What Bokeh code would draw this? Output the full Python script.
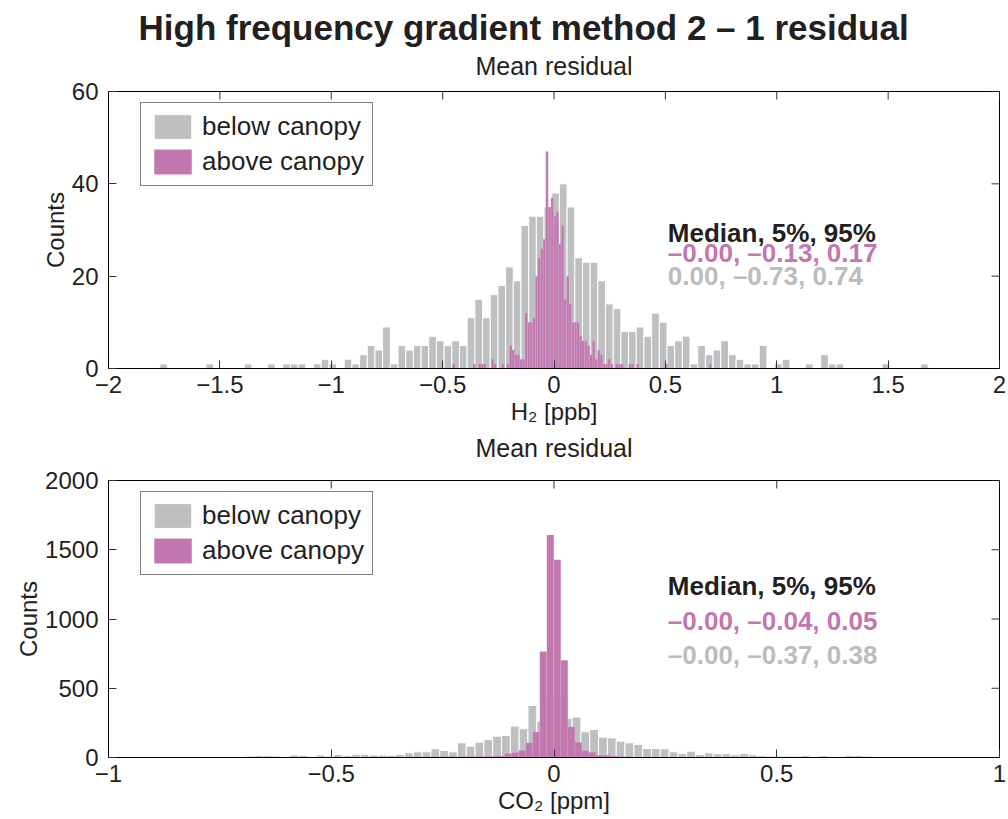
import numpy as np
from bokeh.plotting import figure
from bokeh.models import (Title, Legend, LegendItem, LinearAxis, FixedTicker,
                          Label, ColumnDataSource, Range1d)
from bokeh.layouts import column
from bokeh.embed import file_html
from bokeh.resources import INLINE

FONT = "Liberation Sans"
GRAY = "#bebfc1"
PINK = "#c277b0"
TXT = "#231f20"
GRAY_TXT = "#bcbcbc"
TICK = "#333333"

FRAME_W = 891
FRAME_H = 277
TICK_LEN = 8

# ---------------- data: H2 panel ----------------
h2_below_start = -1.76975
h2_below_width = 0.0345
h2_below_counts = [
    1, 0, 0, 0, 0, 0, 1, 0, 0, 0,
    0, 1, 0, 0, 1, 0, 1, 1, 1, 0,
    1, 2, 1, 0, 2, 1, 3, 5, 4, 9,
    1, 5, 4, 5, 5, 7, 6, 5, 6, 5,
    11, 15, 11, 16, 18, 22, 19, 31, 33, 33,
    35, 38, 40, 35, 24, 23, 23, 19, 14, 13,
    8, 8, 9, 7, 12, 10, 5, 6, 7, 1,
    5, 3, 4, 6, 3, 2, 1, 1, 5, 0,
    1, 2, 0, 0, 1, 0, 3, 1, 1, 0,
    0, 0, 0, 0, 1, 0, 0, 0, 0, 1,
]
h2_above_start = -0.4564
h2_above_width = 0.01164
h2_above_counts = [
    1, 0, 0, 0, 0, 0, 0, 0, 1, 0,
    1, 1, 1, 0, 0, 2, 1, 0, 0, 1,
    0, 1, 5, 4, 3, 3, 2, 2, 12, 10,
    10, 11, 20, 24, 26, 28, 47, 35, 37, 33,
    34, 27, 31, 15, 20, 14, 10, 10, 10, 7,
    6, 6, 5, 3, 6, 2, 4, 3, 1, 1,
    2, 1, 0, 1, 1, 1, 0, 0, 1, 1,
    0, 1, 0, 0, 0, 0, 0, 0, 0, 0,
    0, 0, 1, 0, 0, 0, 0, 0, 0, 0,
    0, 0, 0, 0, 0, 0, 0, 0, 0, 1,
]
h2_xticks = [-2, -1.5, -1, -0.5, 0, 0.5, 1, 1.5, 2]
h2_xtick_labels = ["\u22122", "\u22121.5", "\u22121", "\u22120.5", "0", "0.5", "1", "1.5", "2"]
h2_yticks = [0, 20, 40, 60]
h2_stats = ["Median, 5%, 95%", "\u20130.00, \u20130.13, 0.17", "0.00, \u20130.73, 0.74"]

# ---------------- data: CO2 panel ----------------
co2_below_start = -0.989
co2_below_width = 0.0198
co2_below_counts = [
    5, 8, 6, 8, 8, 6, 8, 6, 8, 5,
    7, 6, 8, 6, 8, 10, 14, 14, 12, 8,
    18, 16, 8, 18, 10, 22, 14, 24, 24, 18,
    18, 16, 22, 34, 41, 41, 63, 51, 41, 106,
    82, 111, 130, 154, 159, 227, 208, 377, 263, 450,
    430, 283, 292, 186, 203, 147, 142, 118, 106, 94,
    65, 65, 63, 41, 30, 46, 22, 34, 27, 27,
    19, 29, 19, 14, 10, 10, 10, 10, 14, 7,
    14, 7, 5, 14, 14, 10, 5, 5, 0, 0,
    7, 7, 5, 0, 2, 0, 0, 2, 0, 0,
]
co2_above_start = -0.963
co2_above_width = 0.01578
co2_above_counts = [
    1, 1, 2, 1, 1, 2, 1, 1, 2, 1,
    2, 1, 2, 2, 1, 2, 2, 2, 3, 2,
    2, 3, 2, 3, 3, 2, 3, 3, 3, 4,
    3, 4, 4, 3, 4, 5, 4, 5, 5, 4,
    5, 5, 6, 5, 6, 6, 7, 6, 7, 8,
    7, 8, 9, 10, 28, 36, 50, 106, 185, 765,
    1607, 1427, 703, 222, 111, 50, 38, 17, 17, 10,
    5, 5, 4, 4, 3, 3, 3, 3, 2, 3,
    2, 2, 3, 2, 2, 2, 1, 2, 2, 1,
    2, 1, 1, 2, 1, 1, 1, 1, 1, 1,
]
co2_xticks = [-1, -0.5, 0, 0.5, 1]
co2_xtick_labels = ["\u22121", "\u22120.5", "0", "0.5", "1"]
co2_yticks = [0, 500, 1000, 1500, 2000]
co2_stats = ["Median, 5%, 95%", "\u20130.00, \u20130.04, 0.05", "\u20130.00, \u20130.37, 0.38"]

legend_labels = ["below canopy", "above canopy"]
main_title = "High frequency gradient method 2 \u2013 1 residual"
sub_title = "Mean residual"


def hist_source(start, width, counts):
    counts = np.asarray(counts, dtype=float)
    left = start + width * np.arange(len(counts))
    return ColumnDataSource(dict(left=left, right=left + width,
                                 top=counts, bottom=np.zeros_like(counts)))


def style_axis(ax):
    ax.axis_line_color = "black"
    ax.axis_line_width = 1
    ax.major_tick_in = TICK_LEN
    ax.major_tick_out = 0
    ax.minor_tick_in = 0
    ax.minor_tick_out = 0
    ax.major_tick_line_color = TICK
    ax.major_label_text_font = FONT
    ax.major_label_text_font_size = "24px"
    ax.major_label_text_color = TXT
    ax.axis_label_text_font = FONT
    ax.axis_label_text_font_size = "24px"
    ax.axis_label_text_font_style = "normal"
    ax.axis_label_text_color = TXT


def panel(xr, yr, xticks, xlabels, yticks, xlabel,
          g_start, g_w, g_counts, p_start, p_w, p_counts,
          stats, stat_x, stat_y, top_border, bottom_border):
    p = figure(frame_width=FRAME_W, frame_height=FRAME_H,
               x_range=Range1d(*xr), y_range=Range1d(*yr),
               output_backend="svg", toolbar_location=None,
               min_border_left=108, min_border_right=9,
               min_border_top=top_border, min_border_bottom=bottom_border,
               x_axis_type=None, y_axis_type=None)
    p.outline_line_color = "black"
    p.outline_line_width = 1
    p.xgrid.visible = False
    p.ygrid.visible = False
    p.background_fill_color = "white"
    p.border_fill_color = "white"

    xb = LinearAxis(ticker=FixedTicker(ticks=xticks),
                    major_label_overrides={t: l for t, l in zip(xticks, xlabels)},
                    axis_label=xlabel)
    style_axis(xb)
    xb.major_label_standoff = 7
    xb.axis_label_standoff = 2
    p.add_layout(xb, "below")

    yl = LinearAxis(ticker=FixedTicker(ticks=yticks), axis_label="Counts")
    style_axis(yl)
    yl.major_label_standoff = 10
    yl.axis_label_standoff = 0
    p.add_layout(yl, "left")

    g = p.quad(left="left", right="right", top="top", bottom="bottom",
               source=hist_source(g_start, g_w, g_counts),
               fill_color=GRAY, line_color="white", line_width=1)
    pk = p.quad(left="left", right="right", top="top", bottom="bottom",
                source=hist_source(p_start, p_w, p_counts),
                fill_color=PINK, line_color="white", line_width=0.6, line_alpha=0.2)

    # inward tick marks on the top and right edges of the box (mirroring the axes)
    x0, x1 = xr
    y0, y1 = yr
    dy = (y1 - y0) * TICK_LEN / FRAME_H
    dx = (x1 - x0) * TICK_LEN / FRAME_W
    p.segment(x0=xticks, x1=xticks, y0=[y1] * len(xticks), y1=[y1 - dy] * len(xticks),
              line_color=TICK, line_width=1)
    p.segment(x0=[x1] * len(yticks), x1=[x1 - dx] * len(yticks), y0=yticks, y1=yticks,
              line_color=TICK, line_width=1)

    leg = Legend(items=[LegendItem(label=legend_labels[0], renderers=[g]),
                        LegendItem(label=legend_labels[1], renderers=[pk])],
                 location=(32, 182))
    leg.label_text_font = FONT
    leg.label_text_font_size = "26px"
    leg.label_text_color = TXT
    leg.glyph_width = 47
    leg.glyph_height = 31
    leg.label_height = 31
    leg.label_standoff = 6
    leg.spacing = 4
    leg.padding = 8
    leg.margin = 0
    leg.border_line_color = "black"
    leg.border_line_width = 1
    leg.background_fill_alpha = 1
    p.add_layout(leg)

    colors = [TXT, PINK, GRAY_TXT]
    for txt, c, yy in zip(stats, colors, stat_y):
        p.add_layout(Label(x=stat_x, y=yy, text=txt, text_color=c,
                           text_font=FONT, text_font_size="26px",
                           text_font_style="bold", text_baseline="middle",
                           text_align="left"))
    return p


p1 = panel((-2, 2), (0, 60), h2_xticks, h2_xtick_labels, h2_yticks, "H\u2082 [ppb]",
           h2_below_start, h2_below_width, h2_below_counts,
           h2_above_start, h2_above_width, h2_above_counts,
           h2_stats, 0.511, [29.4, 25.0, 20.0], 91, 98)
p1.add_layout(Title(text=sub_title, align="center", text_font=FONT,
                    text_font_size="25px", text_font_style="normal",
                    text_color=TXT, standoff=23), "above")
p1.add_layout(Title(text=main_title, align="left", offset=30, text_font=FONT,
                    text_font_size="35px", text_font_style="bold",
                    text_color=TXT, standoff=-16), "above")
# subtitle of the lower panel, placed in the gap between the two panels
p1.add_layout(Title(text=sub_title, align="center", text_font=FONT,
                    text_font_size="25px", text_font_style="normal",
                    text_color=TXT, standoff=8), "below")

p2 = panel((-1, 1), (0, 2000), co2_xticks, co2_xtick_labels, co2_yticks, "CO\u2082 [ppm]",
           co2_below_start, co2_below_width, co2_below_counts,
           co2_above_start, co2_above_width, co2_above_counts,
           co2_stats, 0.2554, [1235, 987, 743], 14, 62)

layout = column(p1, p2, spacing=0)
open("out.html", "w").write(file_html(layout, INLINE))
